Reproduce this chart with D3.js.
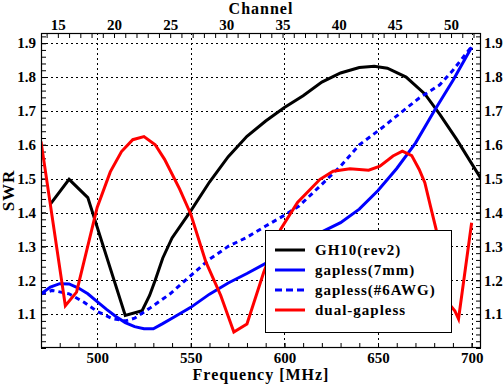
<!DOCTYPE html>
<html>
<head>
<meta charset="utf-8">
<script src="https://cdn.jsdelivr.net/npm/d3@7"></script>
<style>
    body { margin: 0; background: #fff; }
    text { font-family: "Liberation Serif", serif; font-weight: bold; }
</style>
</head>
<body>
<div id="chart"></div>
<script>

// data (frequency in MHz, SWR)
var gh10Freq = [475, 485, 495, 515, 524, 528, 531, 535, 540, 550, 560, 570, 580, 590, 600, 610, 620, 630, 640, 648, 655, 665, 675, 683, 692, 705];
var gh10Swr  = [1.425, 1.498, 1.444, 1.096, 1.11, 1.155, 1.20, 1.265, 1.325, 1.405, 1.49, 1.565, 1.625, 1.67, 1.71, 1.745, 1.785, 1.812, 1.828, 1.832, 1.826, 1.80, 1.75, 1.69, 1.616, 1.50];

var gap7Freq = [470, 475, 480, 485, 490, 495, 500, 505, 510, 515, 520, 525, 530, 535, 540, 550, 560, 570, 580, 590, 600, 610, 620, 630, 640, 650, 660, 670, 680, 690, 700];
var gap7Swr  = [1.16, 1.18, 1.19, 1.189, 1.177, 1.16, 1.137, 1.114, 1.093, 1.075, 1.063, 1.057, 1.057, 1.072, 1.088, 1.12, 1.159, 1.192, 1.22, 1.25, 1.28, 1.31, 1.343, 1.37, 1.41, 1.465, 1.53, 1.605, 1.70, 1.79, 1.888];

var gap6Freq = [470, 476, 485, 493, 500, 508, 515, 520, 528, 539, 550, 560, 570, 580, 590, 600, 608, 619, 630, 640, 651, 662, 672, 683, 690, 700];
var gap6Swr  = [1.16, 1.17, 1.16, 1.135, 1.108, 1.087, 1.08, 1.088, 1.117, 1.16, 1.214, 1.262, 1.30, 1.327, 1.36, 1.392, 1.42, 1.478, 1.537, 1.60, 1.645, 1.694, 1.738, 1.777, 1.82, 1.89];

var dualFreq = [470, 483, 489, 500, 507, 513, 519, 525, 531, 536, 544, 550, 558, 566, 573, 580, 589, 598, 607, 619, 626, 635, 645, 651, 658, 663, 668, 672, 675, 678, 681, 684, 688, 691, 693, 700];
var dualSwr  = [1.61, 1.125, 1.165, 1.415, 1.52, 1.58, 1.615, 1.624, 1.60, 1.557, 1.47, 1.395, 1.255, 1.155, 1.047, 1.071, 1.224, 1.351, 1.43, 1.498, 1.522, 1.529, 1.525, 1.537, 1.567, 1.581, 1.568, 1.527, 1.488, 1.419, 1.351, 1.25, 1.13, 1.11, 1.086, 1.37];

var seriesNames = ["GH10(rev2)", "gapless(7mm)", "gapless(#6AWG)", "dual-gapless"];

// tick labels
var freqTicks = [500, 550, 600, 650, 700];
var swrTicks = [1.1, 1.2, 1.3, 1.4, 1.5, 1.6, 1.7, 1.8, 1.9];
var channelTicks = [15, 20, 25, 30, 35, 40, 45, 50];


SwrChart = function(_parentElement){
    this.parentElement = _parentElement;
    this.series = [
        {name: seriesNames[0], freq: gh10Freq, swr: gh10Swr, color: "#000000", dash: null},
        {name: seriesNames[1], freq: gap7Freq, swr: gap7Swr, color: "#0000ff", dash: null},
        {name: seriesNames[2], freq: gap6Freq, swr: gap6Swr, color: "#0000ff", dash: "5,4"},
        {name: seriesNames[3], freq: dualFreq, swr: dualSwr, color: "#ff0000", dash: null}
    ];
    this.initVis();
}

SwrChart.prototype.initVis = function() {
    var vis = this;
    vis.width = 504;
    vis.height = 386;
    vis.left = 41; vis.right = 481; vis.top = 33; vis.bottom = 348;

    vis.svg = d3.select("#" + vis.parentElement).append("svg")
        .attr("width", vis.width)
        .attr("height", vis.height);

    vis.x = d3.scaleLinear().domain([470, 705]).range([vis.left, vis.right]);
    vis.y = d3.scaleLinear().domain([1.0, 1.93]).range([vis.bottom, vis.top]);
    // UHF channel centre = 6*ch + 389 MHz
    vis.x2 = d3.scaleLinear()
        .domain([(470 - 389) / 6, (705 - 389) / 6])
        .range([vis.left, vis.right]);

    vis.svg.append("clipPath").attr("id", "plotclip")
        .append("rect")
        .attr("x", vis.left).attr("y", vis.top)
        .attr("width", vis.right - vis.left).attr("height", vis.bottom - vis.top);

    /*** GRID */
    var grid = vis.svg.append("g").attr("class", "grid")
        .attr("stroke", "#000").attr("stroke-width", 1).attr("stroke-dasharray", "2,3");
    grid.selectAll(".vgrid").data(freqTicks).enter().append("line")
        .attr("x1", function(d){ return Math.round(vis.x(d)) + 0.5; })
        .attr("x2", function(d){ return Math.round(vis.x(d)) + 0.5; })
        .attr("y1", vis.top).attr("y2", vis.bottom);
    grid.selectAll(".hgrid").data(swrTicks).enter().append("line")
        .attr("y1", function(d){ return Math.round(vis.y(d)) + 0.5; })
        .attr("y2", function(d){ return Math.round(vis.y(d)) + 0.5; })
        .attr("x1", vis.left).attr("x2", vis.right);

    vis.drawAxes();
    vis.updateVis();
}

SwrChart.prototype.drawAxes = function() {
    var vis = this;
    var minorFreq = d3.range(470, 701, 10);
    var minorSwr = d3.range(50, 97).map(function(d){ return d / 50; });
    var minorChan = d3.range(14, 53);

    function style(g) {
        g.select(".domain").remove();
        g.selectAll("line").attr("stroke", "#000");
        g.selectAll("text").attr("font-size", "15px").attr("fill", "#000")
            .attr("font-family", "Liberation Serif, serif").attr("font-weight", "bold");
    }

    // bottom
    vis.svg.append("g").attr("transform", "translate(0," + vis.bottom + ")")
        .call(d3.axisBottom(vis.x).tickValues(minorFreq).tickSize(-5).tickFormat(""))
        .call(style);
    vis.svg.append("g").attr("transform", "translate(0," + vis.bottom + ")")
        .call(d3.axisBottom(vis.x).tickValues(freqTicks).tickSize(-5).tickPadding(4).tickFormat(d3.format("d")))
        .call(style);

    // top (channels)
    vis.svg.append("g").attr("transform", "translate(0," + vis.top + ")")
        .call(d3.axisTop(vis.x2).tickValues(minorChan).tickSize(-5).tickFormat(""))
        .call(style);
    vis.svg.append("g").attr("transform", "translate(0," + vis.top + ")")
        .call(d3.axisTop(vis.x2).tickValues(channelTicks).tickSize(0).tickPadding(3).tickFormat(d3.format("d")))
        .call(style);

    // left
    vis.svg.append("g").attr("transform", "translate(" + vis.left + ",0)")
        .call(d3.axisLeft(vis.y).tickValues(minorSwr).tickSize(-5).tickFormat(""))
        .call(style);
    vis.svg.append("g").attr("transform", "translate(" + vis.left + ",0)")
        .call(d3.axisLeft(vis.y).tickValues(swrTicks).tickSize(-5).tickPadding(5).tickFormat(d3.format(".1f")))
        .call(style);

    // right
    vis.svg.append("g").attr("transform", "translate(" + vis.right + ",0)")
        .call(d3.axisRight(vis.y).tickValues(minorSwr).tickSize(-5).tickFormat(""))
        .call(style);
    vis.svg.append("g").attr("transform", "translate(" + vis.right + ",0)")
        .call(d3.axisRight(vis.y).tickValues(swrTicks).tickSize(-5).tickPadding(3).tickFormat(d3.format(".1f")))
        .call(style);

    // titles
    vis.svg.append("text").attr("x", 261).attr("y", 14)
        .attr("text-anchor", "middle").attr("font-size", "16px").attr("letter-spacing", "1px")
        .text("Channel");
    vis.svg.append("text").attr("x", 261).attr("y", 380)
        .attr("text-anchor", "middle").attr("font-size", "16px").attr("letter-spacing", "1px")
        .text("Frequency [MHz]");
    vis.svg.append("text")
        .attr("transform", "translate(14," + ((vis.top + vis.bottom) / 2) + ") rotate(-90)")
        .attr("text-anchor", "middle").attr("font-size", "17px").attr("letter-spacing", "1px")
        .text("SWR");
}

SwrChart.prototype.updateVis = function() {
    var vis = this;

    var line = d3.line()
        .x(function(d){ return vis.x(d[0]); })
        .y(function(d){ return vis.y(d[1]); });

    var curves = vis.svg.append("g").attr("clip-path", "url(#plotclip)");
    curves.selectAll(".curve")
        .data(vis.series)
        .enter()
        .append("path")
        .attr("class", "curve")
        .attr("d", function(s){ return line(d3.zip(s.freq, s.swr)); })
        .attr("fill", "none")
        .attr("stroke", function(s){ return s.color; })
        .attr("stroke-width", 3)
        .attr("stroke-dasharray", function(s){ return s.dash; });

    // frame
    vis.svg.append("rect")
        .attr("x", vis.left + 0.5).attr("y", vis.top + 0.5)
        .attr("width", vis.right - vis.left - 1).attr("height", vis.bottom - vis.top - 1)
        .attr("fill", "none").attr("stroke", "#000").attr("stroke-width", 1.2);

    // legend
    var legend = vis.svg.append("g").attr("class", "legend");
    legend.append("rect")
        .attr("x", 265.5).attr("y", 230.5).attr("width", 186).attr("height", 102)
        .attr("fill", "#fff").attr("stroke", "#000").attr("stroke-width", 1);

    var rows = legend.selectAll(".row")
        .data(vis.series)
        .enter()
        .append("g")
        .attr("transform", function(d, i){ return "translate(0," + (250 + i * 20) + ")"; });
    rows.append("line")
        .attr("x1", 275).attr("x2", 305)
        .attr("stroke", function(s){ return s.color; })
        .attr("stroke-width", 3)
        .attr("stroke-dasharray", function(s){ return s.dash ? "7,4" : null; });
    rows.append("text")
        .attr("x", 315).attr("dy", ".35em")
        .attr("font-size", "15px").attr("letter-spacing", "1px")
        .text(function(s){ return s.name; });
}

new SwrChart("chart");

</script>
</body>
</html>
